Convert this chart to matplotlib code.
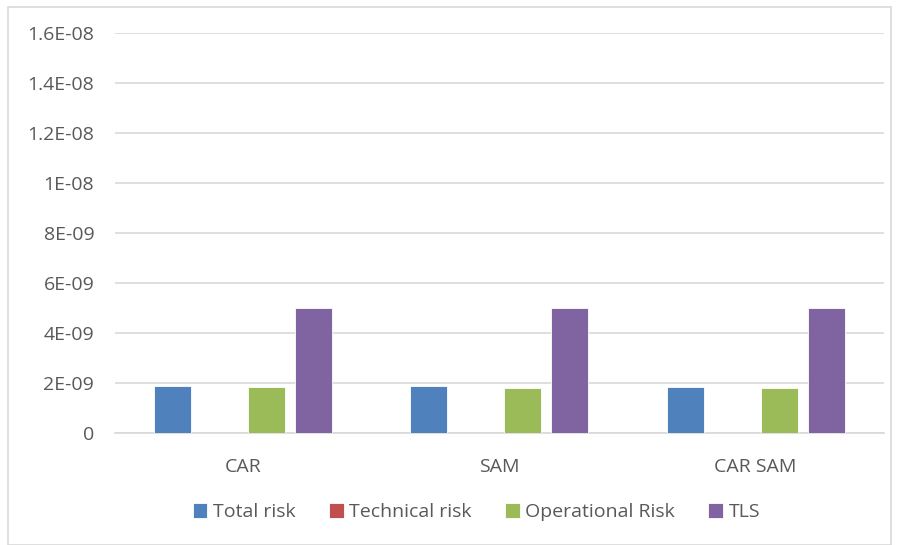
import matplotlib
matplotlib.use("Agg")
import matplotlib.pyplot as plt
import numpy as np
from matplotlib.patches import Rectangle

categories = ["CAR", "SAM", "CAR SAM"]
series_names = ["Total risk", "Technical risk", "Operational Risk", "TLS"]
total_risk = [1.88e-09, 1.86e-09, 1.85e-09]
technical_risk = [1e-12, 1e-12, 1e-12]
operational_risk = [1.84e-09, 1.80e-09, 1.81e-09]
tls = [5.0e-09, 5.0e-09, 5.0e-09]
y_ticks = [0, 2e-09, 4e-09, 6e-09, 8e-09, 1e-08, 1.2e-08, 1.4e-08, 1.6e-08]
y_tick_labels = ["0", "2E-09", "4E-09", "6E-09", "8E-09", "1E-08", "1.2E-08", "1.4E-08", "1.6E-08"]

colors = ["#4F81BD", "#C0504D", "#9BBB59", "#8064A2"]
text_color = "#595959"

plt.rcParams['font.family'] = ['Open Sans', 'DejaVu Sans']

fig = plt.figure(figsize=(8.99, 5.45), dpi=100)
ax = fig.add_axes([0.128, 0.2055, 0.855, 0.734])

x = np.arange(len(categories))
pitch = 0.1836
width = 0.1445
all_series = [total_risk, technical_risk, operational_risk, tls]
for i, (vals, name, c) in enumerate(zip(all_series, series_names, colors)):
    offs = (i - 1.5) * pitch
    ax.bar(x + offs, vals, width, color=c, label=name, zorder=3,
           edgecolor="white", linewidth=0.6)

ax.set_xlim(-0.5, len(categories) - 0.5)
ax.set_ylim(0, 1.6e-08)
ax.set_yticks(y_ticks)
ax.set_yticklabels(y_tick_labels)
ax.set_xticks(x)
ax.set_xticklabels(categories)
ax.yaxis.grid(True, color="#d9d9d9", linewidth=1.2, zorder=0)
ax.tick_params(axis="both", length=0, labelsize=14, colors=text_color)
ax.tick_params(axis="y", pad=15)
ax.tick_params(axis="x", pad=18)
for s in ["top", "right", "left"]:
    ax.spines[s].set_visible(False)
ax.spines["bottom"].set_color("#d9d9d9")
ax.spines["bottom"].set_linewidth(1.2)

leg = fig.legend(loc="center", bbox_to_anchor=(0.53, 0.06), ncol=4, frameon=False,
                 fontsize=14, handlelength=0.75, handleheight=0.75,
                 handletextpad=0.3, columnspacing=1.7)
for t in leg.get_texts():
    t.set_color(text_color)

# light frame around the chart area
fig.patches.append(Rectangle((0.009, 0.0), 0.982, 0.987, transform=fig.transFigure,
                             fill=False, edgecolor="#d9d9d9", linewidth=1.2))

fig.savefig("out.png", dpi=100)
